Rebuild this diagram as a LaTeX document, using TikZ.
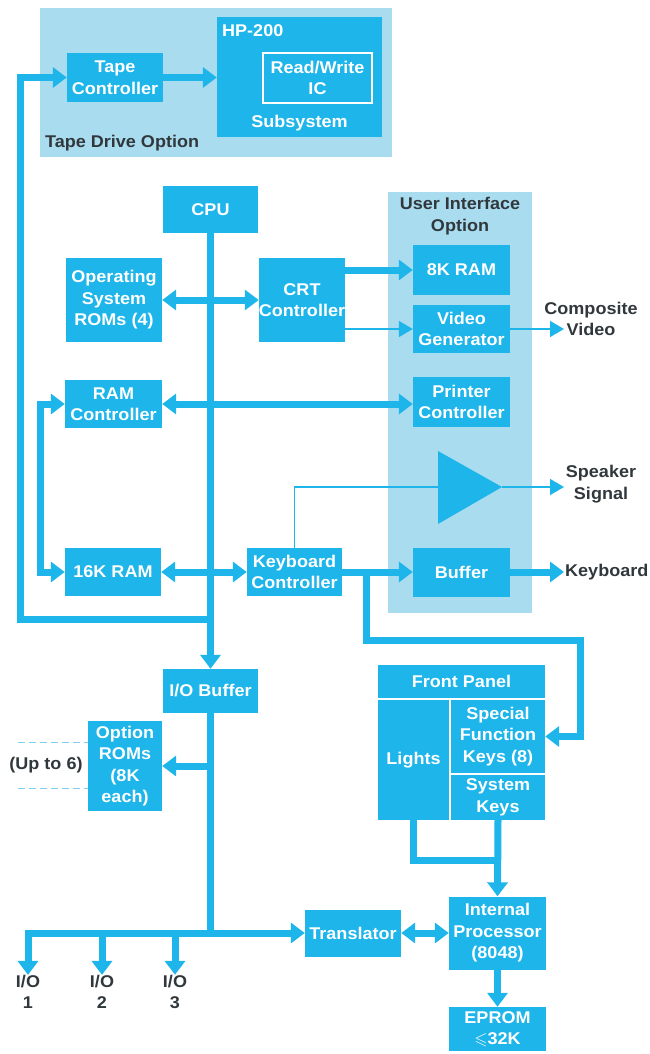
\documentclass[tikz,border=0pt]{standalone}
\usepackage{fontspec}
\setmainfont{Liberation Sans}[FakeStretch=1.06]
\usepackage{amssymb}
\usetikzlibrary{arrows.meta,calc}
\definecolor{boxc}{HTML}{1DB5EA}
\definecolor{bgc}{HTML}{AADCF0}
\definecolor{txt}{HTML}{30383C}
\definecolor{dashc}{HTML}{7FCFEE}
\begin{document}
\begin{tikzpicture}[x=1pt,y=-1pt,
  box/.style={fill=boxc, text=white, font=\bfseries\fontsize{17}{21.5}\selectfont, align=center, inner sep=0pt},
  bgbox/.style={fill=bgc, inner sep=0pt},
  lab/.style={text=txt, font=\bfseries\fontsize{17}{21.5}\selectfont, align=center, inner sep=0pt},
  wlab/.style={text=white, font=\bfseries\fontsize{17}{21.5}\selectfont, align=center, inner sep=0pt},
  bus/.style={draw=boxc, line width=7pt},
  thinl/.style={draw=boxc, line width=1.6pt},
  busarrow/.style={-{Triangle[width=20pt,length=14pt]}},
  dbl/.style={{Triangle[width=20pt,length=14pt]}-{Triangle[width=20pt,length=14pt]}},
  thinarrow/.style={-{Triangle[width=16pt,length=14pt]}},
  dashl/.style={draw=dashc, line width=1pt, dash pattern=on 7pt off 4pt}]
\useasboundingbox (0,0) rectangle (650,1054);

% option backgrounds
\node[bgbox, minimum width=352, minimum height=149] (tapebg) at (216,82.5) {};
\node[bgbox, minimum width=144, minimum height=421] (uibg) at (460,402.5) {};
\node[lab, anchor=west] (tdo) at (45,143) {Tape Drive Option};
\node[lab] (uio) at (460,216) {User Interface\\Option};

% tape drive option
\node[box, minimum width=96, minimum height=49] (tape) at (115,77.5) {Tape\\Controller};
\node[box, minimum width=165, minimum height=120] (hp) at (299.5,77) {};
\node[wlab, anchor=west] (hpt) at (222,31) {HP-200};
\node[wlab, draw=white, line width=1.3pt, minimum width=109, minimum height=50] (rw) at (317.5,78) {Read/Write\\IC};
\node[wlab] (sub) at (299.5,123) {Subsystem};

% main boxes
\node[box, minimum width=95, minimum height=47] (cpu) at (210.5,209.5) {CPU};
\node[box, minimum width=96, minimum height=84] (osrom) at (114,300) {Operating\\System\\ROMs (4)};
\node[box, minimum width=86, minimum height=84] (crt) at (302,300) {CRT\\Controller};
\node[box, minimum width=97, minimum height=50] (ram8) at (461.5,270) {8K RAM};
\node[box, minimum width=97, minimum height=48] (video) at (461.5,329) {Video\\Generator};
\node[box, minimum width=97, minimum height=50] (printer) at (461.5,402) {Printer\\Controller};
\node[box, minimum width=97, minimum height=48] (ramc) at (113.5,404) {RAM\\Controller};
\node[box, minimum width=96, minimum height=48] (ram16) at (113,572) {16K RAM};
\node[box, minimum width=95, minimum height=48] (kbc) at (294.5,572) {Keyboard\\Controller};
\node[box, minimum width=97, minimum height=49] (buffer) at (461.5,572) {Buffer};
\node[box, minimum width=95, minimum height=44] (iobuf) at (210.5,691) {I/O Buffer};
\node[box, minimum width=74, minimum height=90] (optrom) at (125,766) {Option\\ROMs\\(8K\\each)};
\node[box, minimum width=167, minimum height=33] (fp) at (461.5,681.5) {Front Panel};
\node[box, minimum width=71, minimum height=120] (lights) at (413.5,760) {Lights};
\node[box, minimum width=94, minimum height=73] (sfk) at (498,736.5) {Special\\Function\\Keys (8)};
\node[box, minimum width=94, minimum height=45] (syskeys) at (498,797.5) {System\\Keys};
\node[box, minimum width=96, minimum height=47] (translator) at (353,933) {Translator};
\node[box, minimum width=97, minimum height=73] (iproc) at (497.5,933) {Internal\\Processor\\(8048)};
\node[box, minimum width=97, minimum height=44] (eprom) at (497.5,1029) {EPROM\\$\leqslant$32K};

% amplifier
\coordinate (ampin) at (438,487);
\coordinate (ampout) at (502,487);
\fill[boxc] (438,451) -- (ampout) -- (438,524) -- cycle;

% outside labels
\node[lab] (cv) at (591,319) {Composite\\Video};
\node[lab] (spk) at (601,484) {Speaker\\Signal};
\node[lab, anchor=west] (kbd) at (565,572) {Keyboard};
\node[lab] (upto) at (46,765) {(Up to 6)};
\node[lab] (io1) at (28,992) {I/O\\1};
\node[lab] (io2) at (102,992) {I/O\\2};
\node[lab] (io3) at (175,992) {I/O\\3};

% coordinates
\coordinate (j1) at (210.5,619);
\coordinate (j2) at (366,572);
\coordinate (j3) at (498,860);
\coordinate (j4) at (210.5,933);
\coordinate (j5) at (210.5,766);
\coordinate (cvin) at (564,329);
\coordinate (spkin) at (564,487);
\coordinate (kbin) at (564,572);
\coordinate (d1) at (18,742);
\coordinate (d2) at (18,788);

% connectors
\draw[bus, busarrow] (j1) -- (20,619) |- (tape.west);
\draw[bus, busarrow] (tape.east) -- (tape.east -| hp.west);
\draw[bus, busarrow] (cpu.south) -- (iobuf.north);
\draw[bus, dbl] (osrom.east) -- (crt.west);
\draw[bus, busarrow] (crt.east |- ram8.west) -- (ram8.west);
\draw[thinl, thinarrow] (crt.east |- video.west) -- (video.west);
\draw[thinl, thinarrow] (video.east) -- (cvin);
\draw[bus, dbl] (ramc.east) -- (ramc.east -| printer.west);
\draw[bus, dbl] (ramc.west) -| (40,488) |- (ram16.west);
\draw[bus, dbl] (ram16.east) -- (kbc.west);
\draw[bus, busarrow] (kbc.east) -- (buffer.west);
\draw[bus, busarrow] (buffer.east) -- (kbin);
\draw[thinl] (kbc.north) |- (ampin);
\draw[thinl, thinarrow] (ampout) -- (spkin);
\draw[bus, busarrow] (j2) |- (580,640) |- (sfk.east);
\draw[bus] (lights.south) |- (j3);
\draw[bus, busarrow] (syskeys.south) -- (iproc.north);
\draw[bus] (iobuf.south) -- (j4);
\draw[bus, busarrow] (j5) -- (optrom.east);
\draw[bus, dbl] (io1.north) |- (translator.west);
\draw[bus, busarrow] (io2.north |- j4) -- (io2.north);
\draw[bus, busarrow] (io3.north |- j4) -- (io3.north);
\draw[bus, dbl] (translator.east) -- (iproc.west);
\draw[bus, busarrow] (iproc.south) -- (eprom.north);
\draw[dashl] (d1) -- (d1 -| optrom.west);
\draw[dashl] (d2) -- (d2 -| optrom.west);
\end{tikzpicture}
\end{document}
